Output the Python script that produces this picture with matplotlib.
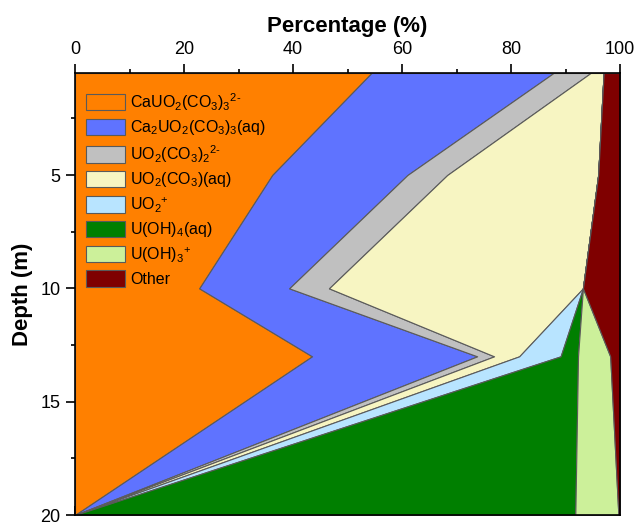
import matplotlib
matplotlib.use("Agg")
import matplotlib.pyplot as plt
import numpy as np
from matplotlib.ticker import MultipleLocator

plt.rcParams['font.family'] = ['Liberation Sans', 'DejaVu Sans']
plt.rcParams['mathtext.fontset'] = 'custom'
plt.rcParams['mathtext.rm'] = 'Liberation Sans'
plt.rcParams['mathtext.it'] = 'Liberation Sans'

# depth points (m)
depth = [0.5, 5, 10, 13, 20]

# percentage of each species at each depth
caUO2CO3_3 = [54.4, 36.2, 22.8, 43.5, 0.0]
ca2UO2CO3_3 = [33.4, 24.8, 16.5, 30.3, 0.0]
uo2CO3_2 = [6.8, 7.3, 7.3, 3.1, 0.0]
uo2CO3 = [2.4, 27.7, 46.6, 4.6, 0.0]
uo2_plus = [0.0, 0.0, 0.0, 7.6, 0.0]
uOH4 = [0.0, 0.0, 0.0, 3.2, 91.8]
uOH3_plus = [0.0, 0.0, 0.0, 5.9, 7.9]
other = [3.0, 4.0, 6.8, 1.8, 0.3]

labels = [
    r'CaUO$_2$(CO$_3$)$_3$$^{2\text{-}}$',
    r'Ca$_2$UO$_2$(CO$_3$)$_3$(aq)',
    r'UO$_2$(CO$_3$)$_2$$^{2\text{-}}$',
    r'UO$_2$(CO$_3$)(aq)',
    r'UO$_2$$^{+}$',
    r'U(OH)$_4$(aq)',
    r'U(OH)$_3$$^{+}$',
    'Other',
]
colors = ['#FF8000', '#5F73FF', '#C0C0C0', '#F7F5C2',
          '#B8E4FF', '#007F00', '#CCF09A', '#7F0000']

series = [caUO2CO3_3, ca2UO2CO3_3, uo2CO3_2, uo2CO3,
          uo2_plus, uOH4, uOH3_plus, other]

fig = plt.figure(figsize=(6.34, 5.24), dpi=100)
ax = fig.add_axes([75 / 634, 1 - 515 / 524, 545 / 634, 442 / 524])

d = np.array(depth)
left = np.zeros(len(depth))
for vals, c, lab in zip(series, colors, labels):
    right = left + np.array(vals)
    ax.fill_betweenx(d, left, right, facecolor=c, edgecolor='#5a5a5a',
                     linewidth=0.8, label=lab)
    left = right

ax.set_xlim(0, 100)
ax.set_ylim(20, 0.5)

ax.xaxis.set_ticks_position('top')
ax.xaxis.set_label_position('top')
ax.set_xticks([0, 20, 40, 60, 80, 100])
ax.xaxis.set_minor_locator(MultipleLocator(10))
ax.set_yticks([5, 10, 15, 20])
ax.yaxis.set_minor_locator(MultipleLocator(2.5))
ax.tick_params(which='major', direction='out', length=6.5, width=1.2,
               labelsize=13, pad=4)
ax.tick_params(which='minor', direction='out', length=3, width=1.2)

# mirrored inward ticks on bottom and right
secx = ax.secondary_xaxis('bottom')
secx.set_xticks([0, 20, 40, 60, 80, 100])
secx.xaxis.set_minor_locator(MultipleLocator(10))
secx.tick_params(which='major', direction='in', length=6.5, width=1.2,
                 labelbottom=False)
secx.tick_params(which='minor', direction='in', length=3, width=1.2)
secy = ax.secondary_yaxis('right')
secy.set_yticks([5, 10, 15, 20])
secy.yaxis.set_minor_locator(MultipleLocator(2.5))
secy.tick_params(which='major', direction='in', length=6.5, width=1.2,
                 labelright=False)
secy.tick_params(which='minor', direction='in', length=3, width=1.2)
for sp in list(ax.spines.values()) + [secx.spines['bottom'], secy.spines['right']]:
    sp.set_linewidth(1.2)

ax.set_xlabel('Percentage (%)', fontsize=16, fontweight='bold', labelpad=7)
ax.set_ylabel('Depth (m)', fontsize=16, fontweight='bold', labelpad=5)

leg = ax.legend(loc='upper left', bbox_to_anchor=(0.0, 0.985), frameon=False,
                fontsize=11.5, handlelength=2.4, handleheight=1.2,
                labelspacing=0.36, handletextpad=0.35, borderaxespad=0.3)

fig.savefig('out.png', dpi=100)
